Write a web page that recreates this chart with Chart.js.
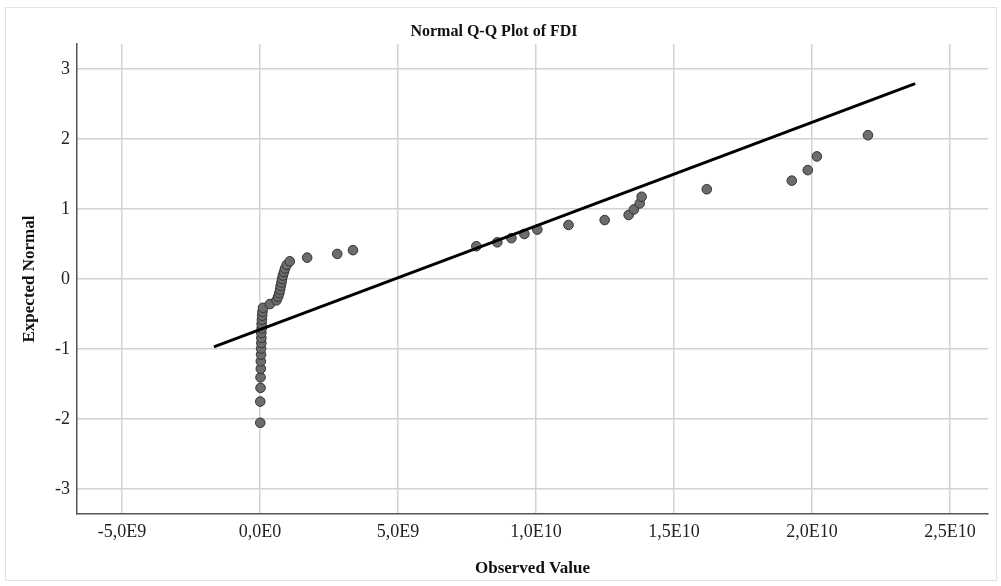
<!DOCTYPE html>
<html>
<head>
<meta charset="utf-8">
<script src="https://cdn.jsdelivr.net/npm/chart.js@4.4.1/dist/chart.umd.min.js"></script>
<style>
  body { margin: 0; background: #fff; }
  .frame { position: absolute; left: 5px; top: 7px; width: 990px; height: 572px; border: 1px solid #e2e2e2; }
  .wrap { position: absolute; left: 0; top: 0; width: 1001px; height: 586px; }
</style>
</head>
<body>
<div class="frame"></div>
<div class="wrap"><canvas id="qq" width="1001" height="586"></canvas></div>
<script>
// observed FDI values (sorted) and their expected normal scores
const observed = [
  0.01e9, 0.01e9, 0.02e9, 0.02e9, 0.03e9, 0.03e9, 0.04e9, 0.04e9, 0.05e9, 0.05e9,
  0.05e9, 0.06e9, 0.06e9, 0.07e9, 0.08e9, 0.09e9, 0.11e9, 0.36e9, 0.60e9, 0.66e9,
  0.70e9, 0.73e9, 0.75e9, 0.78e9, 0.80e9, 0.83e9, 0.87e9, 0.91e9, 0.97e9, 1.08e9,
  1.71e9, 2.80e9, 3.37e9, 7.84e9, 8.60e9, 9.11e9, 9.58e9, 10.05e9, 11.18e9, 12.49e9,
  13.36e9, 13.55e9, 13.76e9, 13.83e9, 16.19e9, 19.27e9, 19.85e9, 20.18e9, 22.03e9
];
const expected = [
  -2.054, -1.751, -1.555, -1.405, -1.282, -1.175, -1.080, -0.994, -0.915, -0.842,
  -0.772, -0.706, -0.643, -0.583, -0.524, -0.468, -0.412, -0.358, -0.305, -0.253,
  -0.202, -0.151, -0.100, -0.050, 0, 0.050, 0.100, 0.151, 0.202, 0.253,
  0.305, 0.358, 0.412, 0.468, 0.524, 0.583, 0.643, 0.706, 0.772, 0.842,
  0.915, 0.994, 1.080, 1.175, 1.282, 1.405, 1.555, 1.751, 2.054
];

// reference line end points
const lineX = [-1.67e9, 23.74e9];
const lineY = [-0.97, 2.79];

// ticks
const xTickValues = [-5e9, 0, 5e9, 1e10, 1.5e10, 2e10, 2.5e10];
const xTickLabels = ['-5,0E9', '0,0E0', '5,0E9', '1,0E10', '1,5E10', '2,0E10', '2,5E10'];
const yTickValues = [-3, -2, -1, 0, 1, 2, 3];

const serif = '"Liberation Serif", "Times New Roman", serif';

const points = observed.map((x, i) => ({ x: x, y: expected[i] }));
const linePts = lineX.map((x, i) => ({ x: x, y: lineY[i] }));

new Chart(document.getElementById('qq'), {
  type: 'scatter',
  data: {
    datasets: [
      {
        label: 'Observed',
        data: points,
        backgroundColor: '#6c6c6c',
        borderColor: '#333',
        borderWidth: 1,
        pointRadius: 4.8,
        order: 1
      },
      {
        label: 'Line',
        data: linePts,
        showLine: true,
        borderColor: '#000',
        borderWidth: 3,
        pointRadius: 0,
        order: 0
      }
    ]
  },
  options: {
    responsive: false,
    animation: false,
    layout: { padding: { left: 0, right: 13, top: 0, bottom: 0 } },
    plugins: {
      legend: { display: false },
      tooltip: { enabled: false },
      title: {
        display: true,
        text: 'Normal Q-Q Plot of FDI',
        color: '#111',
        font: { family: serif, size: 16, weight: 'bold' },
        padding: { top: 22, bottom: 2.8 }
      }
    },
    scales: {
      x: {
        type: 'linear',
        min: -6.63e9,
        max: 26.38e9,
        afterFit: (s) => { s.height = 72; },
        afterBuildTicks: (s) => { s.ticks = xTickValues.map(v => ({ value: v })); },
        ticks: {
          color: '#222',
          font: { family: serif, size: 18 },
          padding: 7,
          callback: (v, i) => xTickLabels[i]
        },
        grid: { color: '#d2d2d2', lineWidth: 1.5, drawTicks: false },
        border: { color: '#555', width: 1.5 },
        title: {
          display: true,
          text: 'Observed Value',
          color: '#111',
          font: { family: serif, size: 17, weight: 'bold' },
          padding: { top: 0, bottom: 7 }
        }
      },
      y: {
        type: 'linear',
        min: -3.357,
        max: 3.357,
        afterFit: (s) => { s.width = 77; },
        afterBuildTicks: (s) => { s.ticks = yTickValues.map(v => ({ value: v })); },
        ticks: {
          color: '#222',
          font: { family: serif, size: 18 },
          padding: 7
        },
        grid: { color: '#d2d2d2', lineWidth: 1.5, drawTicks: false },
        border: { color: '#555', width: 1.5 },
        title: {
          display: true,
          text: 'Expected Normal',
          color: '#111',
          font: { family: serif, size: 17, weight: 'bold' },
          padding: { top: 19, bottom: 0 }
        }
      }
    }
  }
});
</script>
</body>
</html>
